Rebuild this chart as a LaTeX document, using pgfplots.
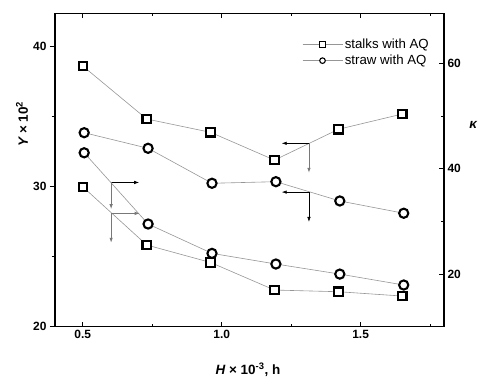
\documentclass[border=0pt]{standalone}
\usepackage{pgfplots}
\pgfplotsset{compat=1.18}
\usepackage{fontspec}
\setmainfont{Liberation Sans}
\usetikzlibrary{arrows.meta}
\definecolor{lgray}{RGB}{150,150,150}
\definecolor{agray}{RGB}{120,120,120}
\tikzset{ar/.style={-{Latex[length=5bp,width=3.5bp]}}}
\begin{document}
\begin{tikzpicture}
\pgfplotsset{
  common/.style={
    width=389bp, height=313.4bp, scale only axis,
    at={(0,0)}, anchor=south west,
    xmin=0.4, xmax=1.8,
    axis line style={line width=1.2pt, black},
    tick style={line width=1pt, black},
    major tick length=5bp, minor tick length=3bp,
    tick label style={font=\fontsize{12}{14}\selectfont\bfseries},
    /pgf/number format/assume math mode=true,
    clip=false,
  },
  sq/.style={color=lgray, line width=0.6pt, mark=square*, mark size=4.2bp,
    mark options={draw=black, fill=white, line width=2.1pt, solid}},
  ci/.style={color=lgray, line width=0.6pt, mark=*, mark size=4.6bp,
    mark options={draw=black, fill=white, line width=2.1pt, solid}},
}
\begin{axis}[common,
  ymin=20, ymax=42.4,
  xtick={0.5,1.0,1.5}, xticklabels={0.5,1.0,1.5},
  minor xtick={0.75,1.25,1.75},
  ytick={20,30,40}, minor ytick={25,35},
  ytick pos=left, xtick pos=both,
  ytick align=outside,
  xlabel={{\bfseries\itshape H}\bfseries\ × 10\textsuperscript{-3}, h},
  xlabel style={at={(axis description cs:0.496,-0.138)}, anchor=center,
    font=\fontsize{13.5}{15}\selectfont},
  ylabel={{\bfseries\itshape Y}\bfseries\ × 10\textsuperscript{2}},
  ylabel style={at={(axis description cs:-0.085,0.647)}, anchor=center,
    font=\fontsize{13.5}{15}\selectfont},
]
% Y, stalks with AQ
\addplot[sq] coordinates {(0.50,30.00) (0.73,25.84) (0.96,24.59) (1.19,22.62) (1.42,22.50) (1.65,22.19)};
% Y, straw with AQ
\addplot[ci] coordinates {(0.505,32.43) (0.735,27.34) (0.965,25.24) (1.195,24.48) (1.425,23.76) (1.655,22.98)};
\draw[black, line width=0.6pt, ar] (axis cs:0.602,30.31) -- (axis cs:0.703,30.31);
\draw[agray, line width=0.9pt, ar] (axis cs:0.602,30.31) -- (axis cs:0.602,28.40);
\draw[agray, line width=0.9pt, ar] (axis cs:0.602,28.10) -- (axis cs:0.705,28.10);
\draw[agray, line width=0.9pt, ar] (axis cs:0.602,28.10) -- (axis cs:0.602,26.00);
\end{axis}
\begin{axis}[common,
  ymin=10, ymax=69.5,
  hide x axis,
  axis y line*=right,
  ytick={20,40,60}, minor ytick={30,50},
  legend cell align=left,
  legend style={draw=none, fill=none, at={(axis description cs:0.635,0.925)},
    anchor=north west, inner sep=0pt, row sep=1bp,
    font=\fontsize{13.3}{15}\selectfont,
    nodes={inner sep=2bp}},
  legend image code/.code={\draw[mark repeat=2,mark phase=2,#1] plot coordinates {(0bp,0bp) (20bp,0bp) (40bp,0bp)};},
]
% kappa, stalks with AQ
\addplot[sq, forget plot] coordinates {(0.50,59.49) (0.73,49.43) (0.96,46.90) (1.19,41.63) (1.42,47.48) (1.65,50.38)};
% kappa, straw with AQ
\addplot[ci, forget plot] coordinates {(0.505,46.83) (0.735,43.87) (0.965,37.23) (1.195,37.53) (1.425,33.87) (1.655,31.54)};
\addlegendimage{color=lgray, line width=0.6pt, mark=square*, mark size=2.6bp, mark options={draw=black, fill=white, line width=1.1pt, solid}}
\addlegendentry{stalks with AQ}
\addlegendimage{color=lgray, line width=0.6pt, mark=*, mark size=2.8bp, mark options={draw=black, fill=white, line width=1.1pt, solid}}
\addlegendentry{straw with AQ}
\draw[black, line width=0.6pt, ar] (axis cs:1.314,44.82) -- (axis cs:1.216,44.82);
\draw[agray, line width=0.9pt, ar] (axis cs:1.314,44.82) -- (axis cs:1.314,39.20);
\draw[black, line width=0.6pt, ar] (axis cs:1.314,35.55) -- (axis cs:1.216,35.55);
\draw[black, line width=0.6pt, ar] (axis cs:1.314,35.55) -- (axis cs:1.314,29.90);
\node[font=\fontsize{13.5}{15}\selectfont\bfseries\itshape] at (axis description cs:1.075,0.644) {κ};
\end{axis}
\pgfresetboundingbox
\path (-55bp,-51.3bp) rectangle (423bp,326.7bp);
\end{tikzpicture}
\end{document}
